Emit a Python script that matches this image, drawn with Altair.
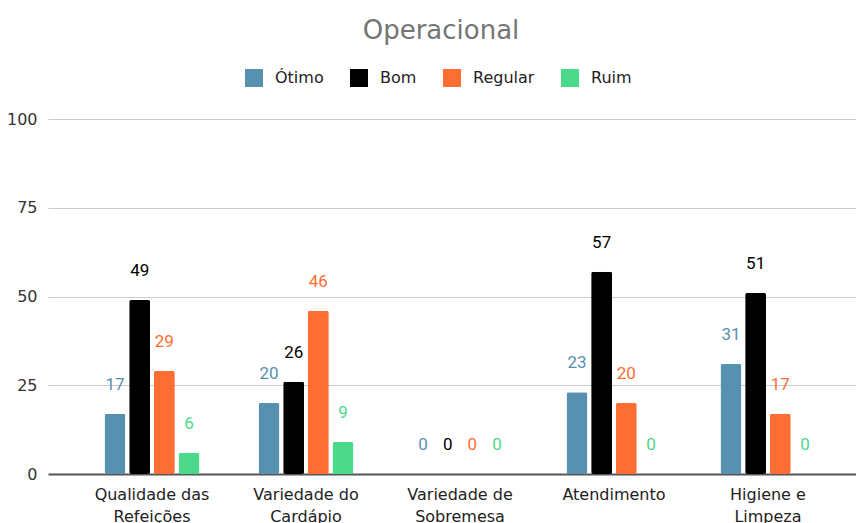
import altair as alt
import pandas as pd

categories = ["Qualidade das Refeições", "Variedade do Cardápio", "Variedade de Sobremesa",
              "Atendimento", "Higiene e Limpeza"]
series = ["Ótimo", "Bom", "Regular", "Ruim"]
otimo = [17, 20, 0, 23, 31]
bom = [49, 26, 0, 57, 51]
regular = [29, 46, 0, 20, 17]
ruim = [6, 9, 0, 0, 0]
colors = ["#5891b0", "#000000", "#ff6d33", "#4cd98a"]
y_ticks = [0, 25, 50, 75, 100]

rows = []
for name, vals in zip(series, [otimo, bom, regular, ruim]):
    for c, v in zip(categories, vals):
        rows.append({"categoria": c, "serie": name, "valor": v})
df = pd.DataFrame(rows)

x_enc = alt.X("categoria:N", sort=categories, title=None,
              scale=alt.Scale(paddingInner=0.383, paddingOuter=0.367, range=[0, 824]),
              axis=alt.Axis(labelAngle=0, ticks=False, domainColor="#555555", domainWidth=2,
                            labelFont="DejaVu Sans", labelFontSize=16, labelColor="#222222",
                            labelPadding=12, labelLineHeight=22, labelLimit=300,
                            labelExpr="length(datum.label) > 12 ? [substring(datum.label, 0, lastindexof(datum.label, ' ')), substring(datum.label, lastindexof(datum.label, ' ') + 1)] : datum.label"))
xo_enc = alt.XOffset("serie:N", sort=series, scale=alt.Scale(paddingInner=0.149))
color_enc = alt.Color("serie:N", sort=series,
                      scale=alt.Scale(domain=series, range=colors),
                      legend=alt.Legend(title=None, orient="none", legendX=197, legendY=-50,
                                        direction="horizontal", symbolType="square",
                                        symbolSize=324, symbolStrokeWidth=0,
                                        labelFont="DejaVu Sans", labelFontSize=16,
                                        labelColor="#222222", labelOffset=12,
                                        columnPadding=26))
y_enc = alt.Y("valor:Q", title=None,
              scale=alt.Scale(domain=[0, 100]),
              axis=alt.Axis(values=y_ticks, ticks=False, domain=False, gridColor="#cccccc",
                            labelFont="DejaVu Sans", labelFontSize=16, labelColor="#333333",
                            labelPadding=11))

bars = alt.Chart(df).mark_bar(cornerRadius=2).encode(
    x=x_enc, xOffset=xo_enc, y=y_enc, color=color_enc
)
labels = alt.Chart(df).mark_text(dy=-24, baseline="alphabetic", font="Roboto", fontSize=17).encode(
    x=x_enc, xOffset=xo_enc, y=y_enc, text=alt.Text("valor:Q"),
    color=alt.Color("serie:N", sort=series, legend=None, scale=alt.Scale(domain=series, range=colors))
)

chart = alt.layer(bars, labels).properties(
    width=808, height=355,
    autosize=alt.AutoSizeParams(type="none"),
    padding={"left": 40, "top": 111, "right": 0, "bottom": 49},
    title=alt.TitleParams("Operacional", font="DejaVu Sans", fontSize=26, fontWeight="normal",
                          color="#757575", anchor="middle", dx=-11, offset=25),
).configure_view(stroke=None)

chart.save("out.html", embed_options={"renderer": "svg", "actions": False})
